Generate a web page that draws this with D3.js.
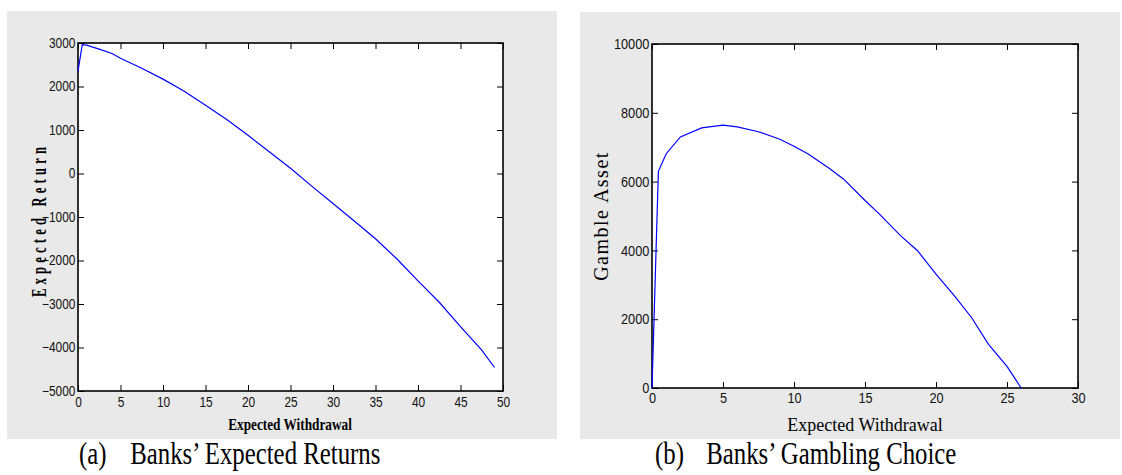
<!DOCTYPE html>
<html>
<head>
<meta charset="utf-8">
<script src="https://cdn.jsdelivr.net/npm/d3@7"></script>
<style>
  body { margin: 0; background: #fff; }
  svg { display: block; }
</style>
</head>
<body>
<div id="chart"></div>
<script>
// panel (a): expected return vs expected withdrawal
const withdrawalA = [0, 0.5, 1, 2.5, 4, 5, 7.5, 10, 12.5, 15, 17.5, 20, 22.5, 25, 27.5, 30, 32.5, 35, 37.5, 40, 42.5, 45, 47.5, 49];
const returnA = [2350, 2960, 2950, 2860, 2760, 2650, 2420, 2170, 1890, 1570, 1240, 880, 500, 120, -290, -690, -1090, -1500, -1960, -2470, -2960, -3520, -4060, -4460];
const xTicksA = [0, 5, 10, 15, 20, 25, 30, 35, 40, 45, 50];
const yTicksA = [-5000, -4000, -3000, -2000, -1000, 0, 1000, 2000, 3000];

// panel (b): gamble asset vs expected withdrawal
const withdrawalB = [0, 0.45, 1, 2, 3.5, 5, 6, 7.5, 9, 10, 11, 12.5, 13.5, 15, 16, 17.5, 18.7, 20, 21.3, 22.5, 23.7, 25, 26];
const gambleB = [0, 6300, 6810, 7300, 7560, 7640, 7590, 7450, 7230, 7030, 6800, 6380, 6070, 5450, 5060, 4430, 3990, 3310, 2680, 2050, 1270, 630, 0];
const xTicksB = [0, 5, 10, 15, 20, 25, 30];
const yTicksB = [0, 2000, 4000, 6000, 8000, 10000];

const svg = d3.select("#chart")
    .append("svg")
    .attr("width", 1122)
    .attr("height", 475);

function drawPanel(opt) {
    // gray figure background
    svg.append("rect")
        .attr("x", opt.bg[0]).attr("y", opt.bg[1])
        .attr("width", opt.bg[2]).attr("height", opt.bg[3])
        .attr("fill", "#e9e9e9");

    const x = d3.scaleLinear().domain(opt.xDomain).range([opt.left, opt.right]);
    const y = d3.scaleLinear().domain(opt.yDomain).range([opt.bottom, opt.top]);

    svg.append("rect")
        .attr("x", opt.left).attr("y", opt.top)
        .attr("width", opt.right - opt.left).attr("height", opt.bottom - opt.top)
        .attr("fill", "#fff");

    const fmt = d3.format("d");

    // bottom axis with labels
    const gx = svg.append("g")
        .attr("transform", `translate(0,${opt.bottom})`)
        .call(d3.axisBottom(x).tickValues(opt.xTicks).tickFormat(fmt).tickSize(-6).tickSizeOuter(0).tickPadding(opt.xPad));
    // top axis, ticks only
    const gt = svg.append("g")
        .attr("transform", `translate(0,${opt.top})`)
        .call(d3.axisTop(x).tickValues(opt.xTicks).tickFormat("").tickSize(-6).tickSizeOuter(0));
    // left axis with labels
    const gy = svg.append("g")
        .attr("transform", `translate(${opt.left},0)`)
        .call(d3.axisLeft(y).tickValues(opt.yTicks).tickFormat(fmt).tickSize(-6).tickSizeOuter(0).tickPadding(3));
    // right axis, ticks only
    const gr = svg.append("g")
        .attr("transform", `translate(${opt.right},0)`)
        .call(d3.axisRight(y).tickValues(opt.yTicks).tickFormat("").tickSize(-6).tickSizeOuter(0));

    [gx, gt, gy, gr].forEach(g => {
        g.select(".domain").remove();
        g.selectAll("line").attr("stroke", "#000").attr("stroke-width", 1);
    });
    [gx, gy].forEach(g => {
        g.selectAll("text")
            .attr("fill", "#111")
            .style("font-family", opt.tickFont)
            .style("font-size", opt.tickSize + "px")
            .attr("transform", `scale(${opt.tickScale},1)`);
    });

    // frame
    svg.append("rect")
        .attr("x", opt.left).attr("y", opt.top)
        .attr("width", opt.right - opt.left).attr("height", opt.bottom - opt.top)
        .attr("fill", "none")
        .attr("stroke", "#000")
        .attr("stroke-width", 1.6);

    const line = d3.line().x(d => x(d[0])).y(d => y(d[1]));
    svg.append("path")
        .datum(opt.xs.map((v, i) => [v, opt.ys[i]]))
        .attr("d", line)
        .attr("fill", "none")
        .attr("stroke", "#0000ff")
        .attr("stroke-width", 1.2);

    return { x, y };
}

drawPanel({
    bg: [7, 11, 550, 428],
    left: 78, right: 503, top: 43, bottom: 391,
    xDomain: [0, 50], yDomain: [-5000, 3000],
    xTicks: xTicksA, yTicks: yTicksA,
    xs: withdrawalA, ys: returnA,
    tickFont: "'Liberation Sans Narrow', 'Liberation Sans', Arial, sans-serif",
    tickSize: 14, tickScale: 0.85, xPad: 6
});

drawPanel({
    bg: [580, 12, 540, 427],
    left: 652, right: 1078, top: 44, bottom: 388,
    xDomain: [0, 30], yDomain: [0, 10000],
    xTicks: xTicksB, yTicks: yTicksB,
    xs: withdrawalB, ys: gambleB,
    tickFont: "'Liberation Sans', Arial, sans-serif",
    tickSize: 14.5, tickScale: 0.88, xPad: 5
});

// axis titles, panel (a): bold condensed serif
svg.append("text")
    .attr("transform", "translate(46,220) rotate(-90) scale(0.6,1)")
    .attr("text-anchor", "middle")
    .style("font-family", "'Liberation Serif', 'Times New Roman', serif")
    .style("font-weight", "bold")
    .style("font-size", "21px")
    .style("letter-spacing", "7px")
    .text("Expected Return");

svg.append("text")
    .attr("transform", "translate(290,430) scale(0.83,1)")
    .attr("text-anchor", "middle")
    .style("font-family", "'Liberation Serif', 'Times New Roman', serif")
    .style("font-weight", "bold")
    .style("font-size", "16px")
    .text("Expected Withdrawal");

// axis titles, panel (b)
svg.append("text")
    .attr("transform", "translate(608,216) rotate(-90)")
    .attr("text-anchor", "middle")
    .style("font-family", "'Liberation Serif', 'Times New Roman', serif")
    .style("font-size", "20px")
    .style("letter-spacing", "1.5px")
    .text("Gamble Asset");

svg.append("text")
    .attr("x", 865).attr("y", 431)
    .attr("text-anchor", "middle")
    .style("font-family", "'Liberation Serif', 'Times New Roman', serif")
    .style("font-size", "18px")
    .text("Expected Withdrawal");

// captions (tall, slightly condensed serif)
const captions = [
    { label: "(a)", text: "Banks\u2019 Expected Returns", x: 79 },
    { label: "(b)", text: "Banks\u2019 Gambling Choice", x: 655 }
];
captions.forEach(c => {
    const t = svg.append("text")
        .attr("transform", `translate(${c.x},464) scale(0.8,1)`)
        .style("font-family", "'Liberation Serif', 'Times New Roman', serif")
        .style("font-size", "31px")
        .attr("fill", "#000");
    t.append("tspan").attr("x", 0).text(c.label);
    t.append("tspan").attr("x", 64).text(c.text);
});
</script>
</body>
</html>
